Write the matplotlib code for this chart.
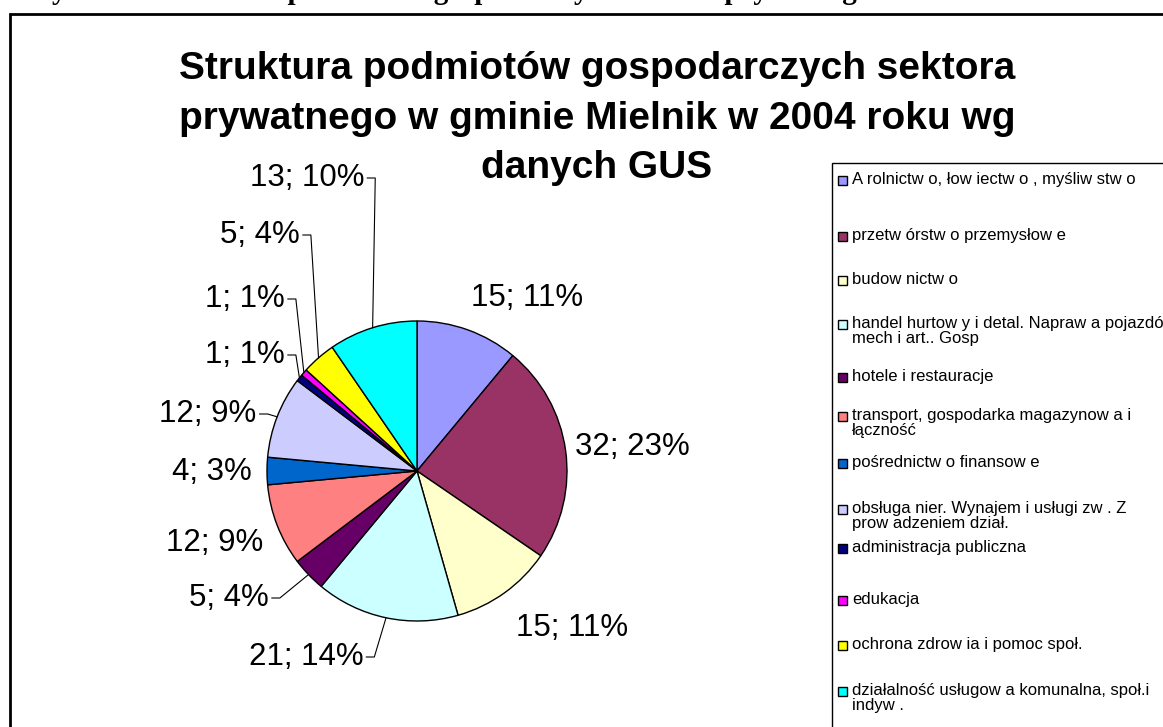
import matplotlib
matplotlib.use("Agg")
import numpy as np
import matplotlib.pyplot as plt
from matplotlib.patches import Rectangle

W, H = 1163, 727

# data
categories = [
    "A rolnictw o, łow iectw o , myśliw stw o",
    "przetw órstw o przemysłow e",
    "budow nictw o",
    "handel hurtow y i detal. Napraw a pojazdów\nmech i art.. Gosp",
    "hotele i restauracje",
    "transport, gospodarka magazynow a i\nłączność",
    "pośrednictw o finansow e",
    "obsługa nier. Wynajem i usługi zw . Z\nprow adzeniem dział.",
    "administracja publiczna",
    "edukacja",
    "ochrona zdrow ia i pomoc społ.",
    "działalność usługow a komunalna, społ.i\nindyw .",
]
values = [15, 32, 15, 21, 5, 12, 4, 12, 1, 1, 5, 13]
percent_labels = ["11%", "23%", "11%", "14%", "4%", "9%", "3%", "9%", "1%", "1%", "4%", "10%"]
colors = ["#9999FF", "#993366", "#FFFFCC", "#CCFFFF", "#660066", "#FF8080",
          "#0066CC", "#CCCCFF", "#000080", "#FF00FF", "#FFFF00", "#00FFFF"]

title_lines = ["Struktura podmiotów gospodarczych sektora",
               "prywatnego w gminie Mielnik w 2004 roku wg",
               "danych GUS"]
caption = "Wykres 1. Struktura podmiotów gospodarczych sektora prywatnego w Mielniku"

# layout (pixels, y from top)
pie_center = (417, 471)
pie_radius = 150
label_pos = [(527, 298), (632, 447), (572, 628), (306, 657), (229, 598), (215, 543),
             (212, 472), (208, 414), (245, 355), (245, 299), (260, 235), (307, 178)]
has_leader = [False, False, False, True, True, False, False, True, True, True, True, True]
legend_rows = [180, 236, 280, 324, 377, 416, 463, 509, 548, 600, 645, 691]
title_rows = [69, 119, 168]


def py(y):
    return H - y


fig = plt.figure(figsize=(W / 100, H / 100), dpi=100)
ax = fig.add_axes([0, 0, 1, 1])

sans = "Liberation Sans"

# clipped caption above the chart
ax.text(24, py(-1), caption, family="Liberation Serif", fontweight="bold",
        fontsize=21, va="baseline", ha="left")

# chart frame
ax.add_patch(Rectangle((10, py(740)), 1200, 740 - 14, fill=False, lw=2, ec="black"))

wedges, _ = ax.pie(values, colors=colors, startangle=90, counterclock=False,
                   center=(pie_center[0], py(pie_center[1])), radius=pie_radius,
                   wedgeprops=dict(edgecolor="black", linewidth=1), frame=True)
ax.set_xlim(0, W)
ax.set_ylim(0, H)
ax.axis("off")

fig.canvas.draw()
r = fig.canvas.get_renderer()
for i, (w, v, p) in enumerate(zip(wedges, values, percent_labels)):
    lx, ly = label_pos[i]
    t = ax.text(lx, py(ly), f"{v}; {p}", family=sans, fontsize=22.5,
                ha="center", va="center")
    if has_leader[i]:
        bb = t.get_window_extent(r)
        right = bb.x1 + 3
        mid = np.deg2rad((w.theta1 + w.theta2) / 2)
        ex = pie_center[0] + pie_radius * np.cos(mid)
        ey = py(pie_center[1]) + pie_radius * np.sin(mid)
        ax.plot([right, right + 8, ex], [py(ly), py(ly), ey], color="black", lw=0.8)

for line, ty in zip(title_lines, title_rows):
    ax.text(597, py(ty), line, family=sans, fontweight="bold", fontsize=28,
            ha="center", va="center")

# legend box
ax.add_patch(Rectangle((832, py(740)), 400, 740 - 163, fill=False, lw=1, ec="black"))
for lab, col, ry in zip(categories, colors, legend_rows):
    ax.add_patch(Rectangle((838, py(ry) - 4.5), 9, 9, facecolor=col, ec="black", lw=1))
    ax.text(852, py(ry) + 8, lab, family=sans, fontsize=12, ha="left", va="top",
            linespacing=1.0)

fig.savefig("out.png", dpi=100)
